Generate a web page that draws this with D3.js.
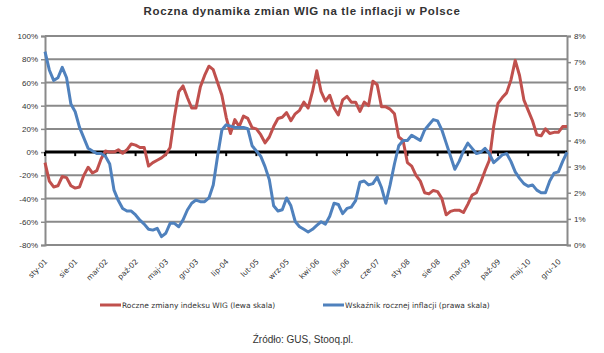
<!DOCTYPE html>
<html>
<head>
<meta charset="utf-8">
<script src="https://cdn.jsdelivr.net/npm/d3@7"></script>
<style>
  body { margin: 0; background: #fff; }
  svg { display: block; font-family: "DejaVu Sans", Verdana, sans-serif; }
</style>
</head>
<body>
<div id="chart"></div>
<script>
// month names and years for the category axis
var months = ["sty", "lut", "mar", "kwi", "maj", "cze", "lip", "sie", "wrz", "paź", "lis", "gru"];
var years = ["01", "02", "03", "04", "05", "06", "07", "08", "09", "10", "11"];
var categories = [];
years.forEach(function (y) {
  months.forEach(function (m) { categories.push(m + "-" + y); });
});
categories = categories.slice(0, 122); // sty-01 .. lut-11

// roczne zmiany indeksu WIG (%), lewa skala
var wig = [
  -9, -25, -30, -29, -21, -22, -29, -31, -30, -20, -13, -18,
  -16, -6, 1, 0, 0, 2, -1, 2, 7, 6, 4, 4,
  -12, -9, -7, -5, -2, 4, 30, 52, 57, 47, 38, 38,
  56, 66, 74, 71, 60, 49, 30, 16, 28, 22, 31, 29,
  21, 20, 15, 8, 13, 22, 29, 30, 34, 27, 33, 36,
  43, 38, 52, 70, 52, 44, 49, 38, 32, 45, 48, 43,
  43, 35, 43, 40, 61, 58, 39, 39, 37, 33, 13, 10,
  -9, -12, -20, -25, -35, -36, -33, -34, -40, -54, -51, -50,
  -50, -52, -45, -37, -35, -26, -16, -7, 22, 42, 47, 51,
  62, 79, 66, 45, 36, 27, 15, 14, 20, 16, 17, 17,
  22, 22
];

// wskaźnik rocznej inflacji (%), prawa skala
var inflation = [
  7.4, 6.7, 6.3, 6.4, 6.8, 6.4, 5.4, 5.1, 4.5, 4.1, 3.7, 3.6,
  3.5, 3.5, 3.4, 3.1, 2.1, 1.7, 1.4, 1.3, 1.3, 1.15, 0.95, 0.8,
  0.6, 0.57, 0.64, 0.32, 0.45, 0.83, 0.83, 0.7, 0.96, 1.34, 1.6, 1.72,
  1.66, 1.66, 1.8, 2.3, 3.4, 4.4, 4.6, 4.55, 4.5, 4.5, 4.5, 4.45,
  3.8, 3.6, 3.4, 3.0, 2.5, 1.5, 1.3, 1.35, 1.8, 1.5, 0.9, 0.7,
  0.6, 0.5, 0.6, 0.75, 0.89, 0.8, 1.1, 1.6, 1.55, 1.2, 1.4, 1.45,
  1.7, 2.4, 2.45, 2.3, 2.35, 2.6, 2.2, 1.6, 2.3, 3.1, 3.8, 4.0,
  4.0, 4.2, 4.1, 4.0, 4.4, 4.6, 4.8, 4.75, 4.4, 3.9, 3.4, 2.9,
  3.2, 3.6, 3.9, 3.7, 3.5, 3.55, 3.7, 3.5, 3.15, 3.3, 3.45, 3.5,
  3.2, 2.8, 2.55, 2.35, 2.25, 2.3, 2.1, 2.0, 2.0, 2.45, 2.75, 2.8,
  3.2, 3.55
];

var leftTicks = [-80, -60, -40, -20, 0, 20, 40, 60, 80, 100];
var rightTicks = [0, 1, 2, 3, 4, 5, 6, 7, 8];
var labelStep = 7;

var width = 604, height = 353;
var margin = { top: 36, right: 37, bottom: 108, left: 45 };

var svg = d3.select("#chart")
  .append("svg")
  .attr("width", width)
  .attr("height", height);

var x = d3.scalePoint()
  .domain(categories)
  .range([margin.left, width - margin.right]);

var yLeft = d3.scaleLinear()
  .domain([-80, 100])
  .range([height - margin.bottom, margin.top]);

var yRight = d3.scaleLinear()
  .domain([0, 8])
  .range([height - margin.bottom, margin.top]);

// title
svg.append("text")
  .attr("x", 302)
  .attr("y", 15)
  .attr("text-anchor", "middle")
  .style("font-family", "'Liberation Sans', Arial, sans-serif")
  .style("font-weight", "bold")
  .style("font-size", "11.5px")
  .style("letter-spacing", "0.65px")
  .attr("fill", "#333")
  .text("Roczna dynamika zmian WIG na tle inflacji w Polsce");

// gridlines
svg.append("g")
  .selectAll("line")
  .data(leftTicks)
  .enter()
  .append("line")
  .attr("x1", margin.left)
  .attr("x2", width - margin.right)
  .attr("y1", function (d) { return yLeft(d); })
  .attr("y2", function (d) { return yLeft(d); })
  .attr("stroke", "#8a8a8a")
  .attr("stroke-width", 2);

// left axis
var leftAxis = svg.append("g")
  .attr("transform", "translate(" + margin.left + ",0)")
  .call(d3.axisLeft(yLeft)
    .tickValues(leftTicks)
    .tickSize(4)
    .tickPadding(3)
    .tickFormat(function (d) { return d + "%"; }));
leftAxis.select(".domain").attr("stroke", "#8a8a8a").attr("stroke-width", 2);
leftAxis.selectAll(".tick line").attr("stroke", "#8a8a8a").attr("stroke-width", 1.5);
leftAxis.selectAll("text").attr("fill", "#333").style("font-size", "8px");

// right axis
var rightAxis = svg.append("g")
  .attr("transform", "translate(" + (width - margin.right) + ",0)")
  .call(d3.axisRight(yRight)
    .tickValues(rightTicks)
    .tickSize(4)
    .tickPadding(3)
    .tickFormat(function (d) { return d + "%"; }));
rightAxis.select(".domain").attr("stroke", "#8a8a8a").attr("stroke-width", 2);
rightAxis.selectAll(".tick line").attr("stroke", "#8a8a8a").attr("stroke-width", 1.5);
rightAxis.selectAll("text").attr("fill", "#333").style("font-size", "8px");

// category labels at the bottom
var labelCats = categories.filter(function (d, i) { return i % labelStep === 0; });
svg.append("g")
  .selectAll("text")
  .data(labelCats)
  .enter()
  .append("text")
  .attr("transform", function (d) {
    return "translate(" + (x(d) + 3) + "," + (height - margin.bottom + 17) + ")rotate(-45)";
  })
  .attr("text-anchor", "end")
  .attr("fill", "#333")
  .style("font-size", "7.5px")
  .text(function (d) { return d; });

// lines
var lineLeft = d3.line()
  .x(function (d, i) { return x(categories[i]); })
  .y(function (d) { return yLeft(d); });

var lineRight = d3.line()
  .x(function (d, i) { return x(categories[i]); })
  .y(function (d) { return yRight(d); });

// zero (category) axis
svg.append("line")
  .attr("x1", margin.left)
  .attr("x2", width - margin.right)
  .attr("y1", yLeft(0))
  .attr("y2", yLeft(0))
  .attr("stroke", "#000")
  .attr("stroke-width", 3);

svg.append("g")
  .selectAll("line")
  .data(labelCats)
  .enter()
  .append("line")
  .attr("x1", function (d) { return x(d); })
  .attr("x2", function (d) { return x(d); })
  .attr("y1", yLeft(0))
  .attr("y2", yLeft(0) + 4)
  .attr("stroke", "#000")
  .attr("stroke-width", 2);

svg.append("path")
  .datum(wig)
  .attr("fill", "none")
  .attr("stroke", "#C0504D")
  .attr("stroke-width", 3)
  .attr("stroke-linejoin", "round")
  .attr("d", lineLeft);

svg.append("path")
  .datum(inflation)
  .attr("fill", "none")
  .attr("stroke", "#4F81BD")
  .attr("stroke-width", 3)
  .attr("stroke-linejoin", "round")
  .attr("d", lineRight);

// legend
var legendItems = [
  { label: "Roczne zmiany indeksu WIG (lewa skala)", color: "#C0504D", x: 100 },
  { label: "Wskaźnik rocznej inflacji (prawa skala)", color: "#4F81BD", x: 323 }
];
var legend = svg.append("g");
legendItems.forEach(function (it) {
  legend.append("line")
    .attr("x1", it.x)
    .attr("x2", it.x + 21)
    .attr("y1", 305)
    .attr("y2", 305)
    .attr("stroke", it.color)
    .attr("stroke-width", 3);
  legend.append("text")
    .attr("x", it.x + 22)
    .attr("y", 308)
    .attr("fill", "#333")
    .style("font-size", "7.5px")
    .text(it.label);
});

// source
svg.append("text")
  .attr("x", 303)
  .attr("y", 343)
  .attr("text-anchor", "middle")
  .style("font-family", "'Liberation Sans', Arial, sans-serif")
  .style("font-size", "10px")
  .attr("fill", "#333")
  .text("Źródło: GUS, Stooq.pl.");
</script>
</body>
</html>
